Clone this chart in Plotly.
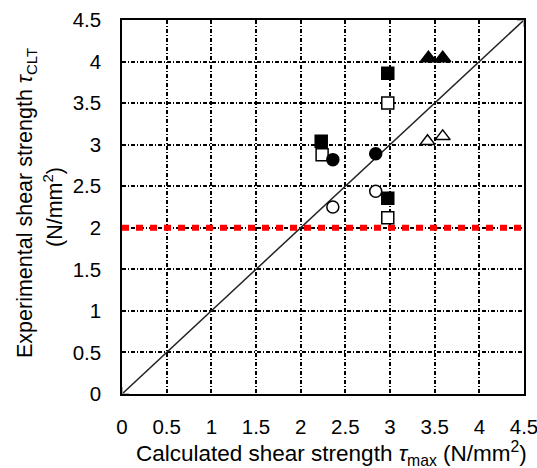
import plotly.graph_objects as go

# Data
filled_sq_x = [2.23, 2.975, 2.975]
filled_sq_y = [3.04, 3.86, 2.355]
open_sq_x = [2.24, 2.975, 2.975]
open_sq_y = [2.88, 3.50, 2.12]
filled_ci_x = [2.36, 2.84]
filled_ci_y = [2.82, 2.89]
open_ci_x = [2.36, 2.84]
open_ci_y = [2.25, 2.44]
filled_tr_x = [3.43, 3.59]
filled_tr_y = [4.04, 4.04]
open_tr_x = [3.42, 3.59]
open_tr_y = [3.04, 3.10]
diag_x = [0, 4.5]
diag_y = [0, 4.5]
limit_x = [0, 4.5]
limit_y = [2, 2]
tick_vals = [0, 0.5, 1, 1.5, 2, 2.5, 3, 3.5, 4, 4.5]
tick_text = ["0", "0.5", "1", "1.5", "2", "2.5", "3", "3.5", "4", "4.5"]
x_title = "Calculated shear strength <i>τ</i><sub>max</sub> (N/mm<sup>2</sup>)"
y_title_1 = "Experimental shear strength <i>τ</i><sub>CLT</sub>"
y_title_2 = "(N/mm<sup>2</sup>)"

fig = go.Figure()

fig.add_trace(go.Scatter(x=limit_x, y=limit_y, mode="lines",
                         line=dict(color="#ff0000", width=6, dash="7px,7px"),
                         showlegend=False, hoverinfo="skip"))
fig.add_trace(go.Scatter(x=diag_x, y=diag_y, mode="lines+markers",
                         line=dict(color="#222222", width=1.5),
                         marker=dict(symbol="cross-thin", size=10,
                                     line=dict(color="#999999", width=1.5)),
                         showlegend=False))

def add(xs, ys, symbol, filled, size):
    fig.add_trace(go.Scatter(
        x=xs, y=ys, mode="markers", showlegend=False,
        marker=dict(symbol=symbol, size=size,
                    color="black" if filled else "white",
                    line=dict(color="black", width=1.5))))

add(filled_sq_x, filled_sq_y, "square", True, 12)
add(open_sq_x, open_sq_y, "square", False, 12)
add(filled_ci_x, filled_ci_y, "circle", True, 12)
add(open_ci_x, open_ci_y, "circle", False, 12)
add(filled_tr_x, filled_tr_y, "triangle-up", True, 14)
add(open_tr_x, open_tr_y, "triangle-up", False, 13)

font = "Liberation Sans"
axis_common = dict(
    range=[0, 4.5], tickvals=tick_vals, ticktext=tick_text, automargin=False,
    showgrid=True, gridcolor="black", gridwidth=1.5, griddash="4px,2px,1px,2px",
    zeroline=False, showline=True, linecolor="black", linewidth=1.5,
    mirror=True, ticks="", ticklabeloverflow="allow",
    tickfont=dict(size=20.5, color="black", family=font),
)

fig.update_layout(
    width=537, height=468,
    margin=dict(l=122, r=13, t=20, b=74),
    paper_bgcolor="white", plot_bgcolor="white",
    font=dict(family=font, color="black"),
    xaxis=dict(**axis_common, ticklabelstandoff=14),
    yaxis=dict(**axis_common, ticklabelstandoff=15),
)

fig.add_annotation(text=x_title, xref="paper", yref="paper", x=0.5, y=0,
                   xanchor="center", yanchor="middle", xshift=8, yshift=-59,
                   showarrow=False, font=dict(size=22.5, color="black", family=font))
fig.add_annotation(text=y_title_1, xref="paper", yref="paper", x=0, y=0.5,
                   xanchor="center", yanchor="middle", xshift=-96, yshift=4,
                   textangle=-90,
                   showarrow=False, font=dict(size=21.5, color="black", family=font))
fig.add_annotation(text=y_title_2, xref="paper", yref="paper", x=0, y=0.5,
                   xanchor="center", yanchor="middle", xshift=-69, textangle=-90,
                   showarrow=False, font=dict(size=21.5, color="black", family=font))

fig.write_html("out.html", config={"displayModeBar": False},
               post_script="document.body.style.margin='0';")
